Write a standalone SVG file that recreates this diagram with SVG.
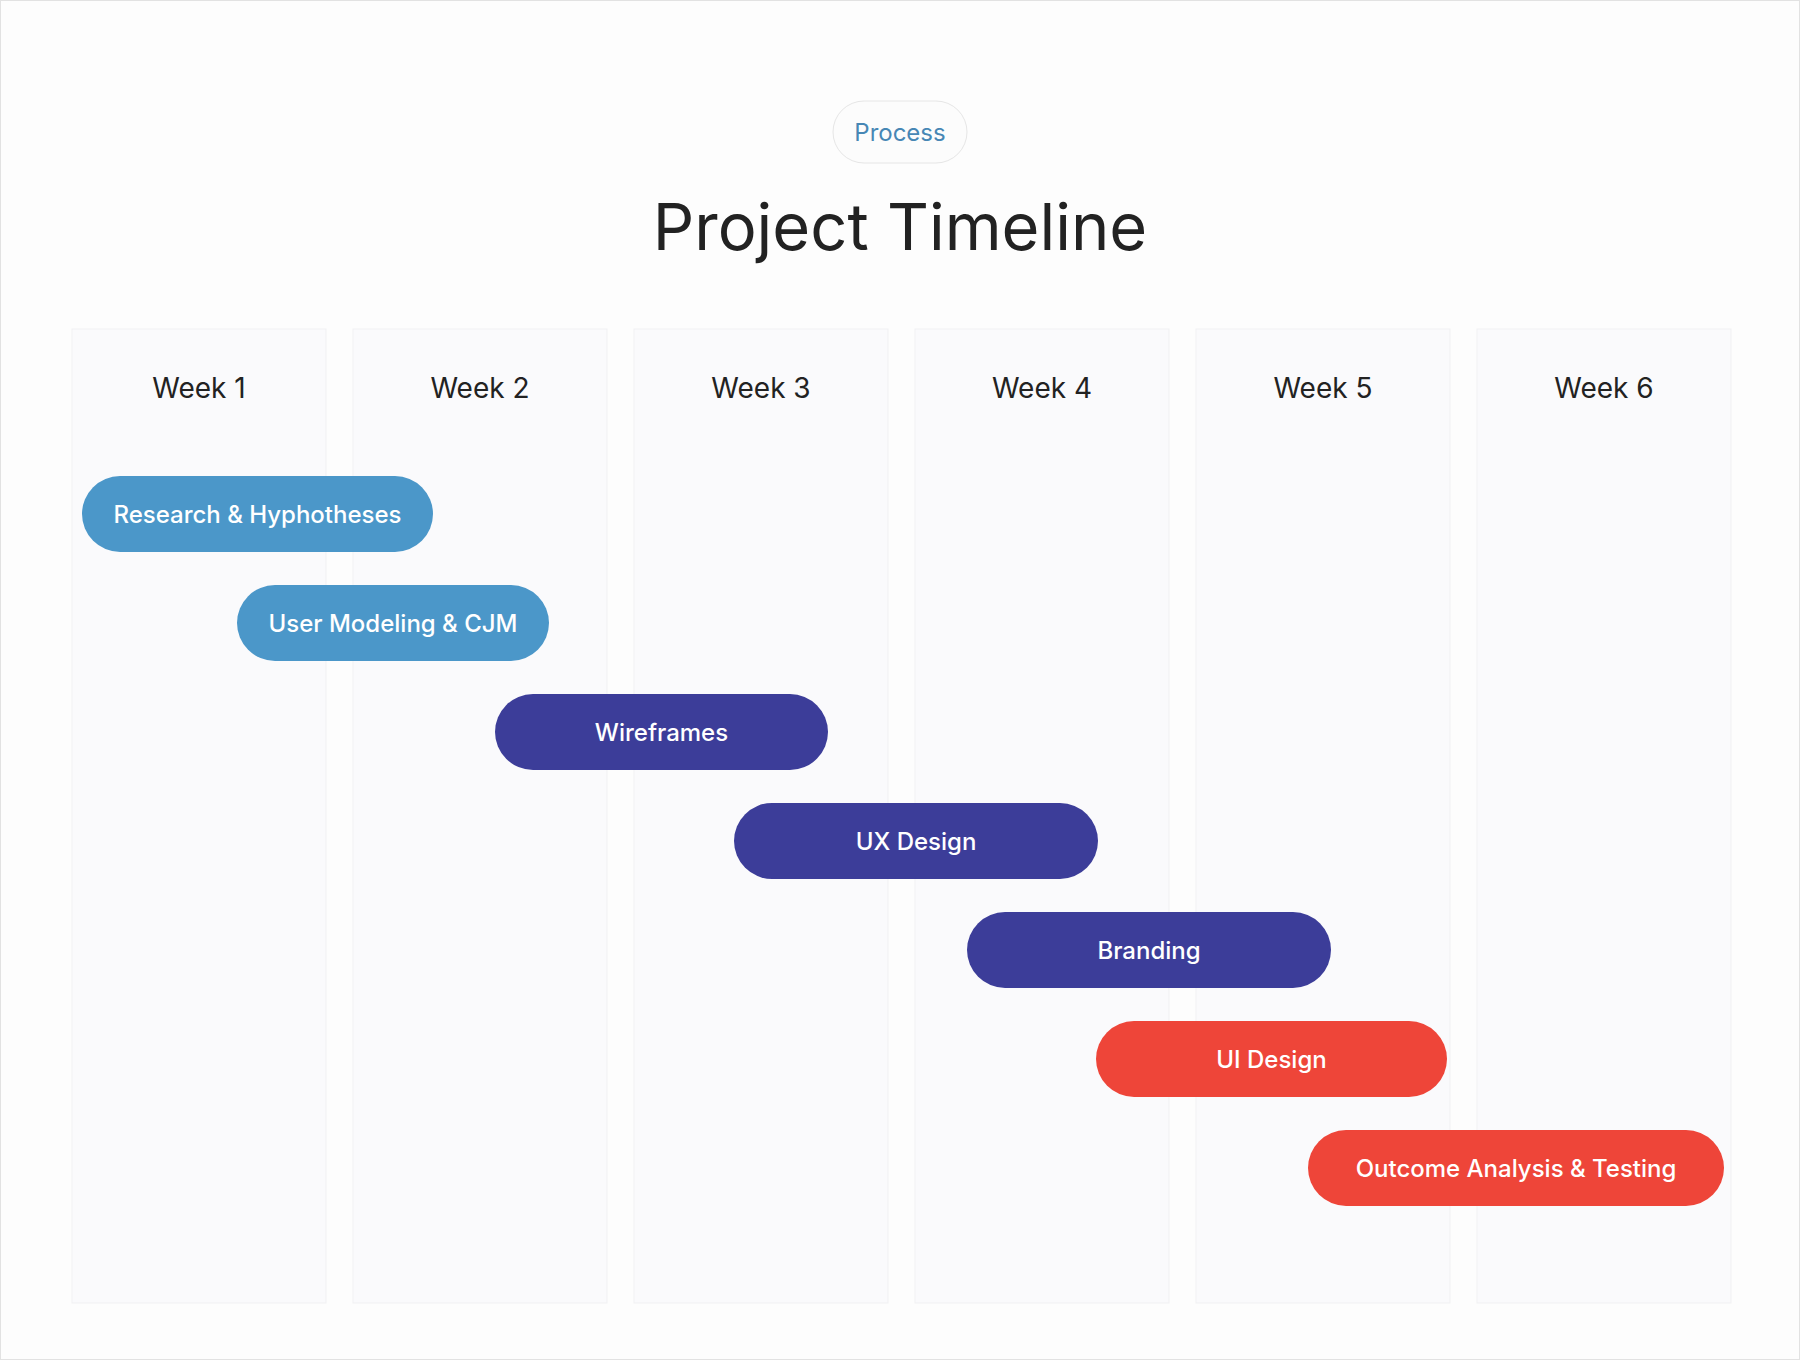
<svg xmlns="http://www.w3.org/2000/svg" width="1800" height="1360" viewBox="0 0 1800 1360">
<style>
.col{fill:#fafafc;stroke:#f1f1f3;stroke-width:1}
.wk{font-family:Inter,"Noto Sans",sans-serif;font-size:28px;fill:#222;text-anchor:middle}
.bar-t{font-family:Inter,"Noto Sans",sans-serif;font-size:24px;font-weight:500;fill:#fff;text-anchor:middle}
.lb{fill:#4b97c9}.db{fill:#3c3d99}.rd{fill:#ee4539}
</style>
<rect x="0.5" y="0.5" width="1799" height="1359" fill="#fdfdfd" stroke="#e2e2e2"/>
<g id="header">
<rect x="833" y="101" width="134" height="62" rx="31" fill="#fcfcfc" stroke="#e6e6e6"/>
<text x="900" y="141" font-family="Inter,'Noto Sans',sans-serif" font-size="24" fill="#4787b5" text-anchor="middle">Process</text>
<text x="900" y="250" font-family="Inter,'Noto Sans',sans-serif" font-size="65" fill="#222" text-anchor="middle">Project Timeline</text>
</g>
<g id="columns">
<g id="week1"><rect class="col" x="72" y="329" width="254" height="974"/><text class="wk" x="199" y="398">Week 1</text></g>
<g id="week2"><rect class="col" x="353" y="329" width="254" height="974"/><text class="wk" x="480" y="398">Week 2</text></g>
<g id="week3"><rect class="col" x="634" y="329" width="254" height="974"/><text class="wk" x="761" y="398">Week 3</text></g>
<g id="week4"><rect class="col" x="915" y="329" width="254" height="974"/><text class="wk" x="1042" y="398">Week 4</text></g>
<g id="week5"><rect class="col" x="1196" y="329" width="254" height="974"/><text class="wk" x="1323" y="398">Week 5</text></g>
<g id="week6"><rect class="col" x="1477" y="329" width="254" height="974"/><text class="wk" x="1604" y="398">Week 6</text></g>
</g>
<g id="connectors"/>
<g id="bar1"><rect class="lb" x="82" y="476" width="351" height="76" rx="38"/><text class="bar-t" x="257.5" y="523">Research &amp; Hyphotheses</text></g>
<g id="bar2"><rect class="lb" x="237" y="585" width="312" height="76" rx="38"/><text class="bar-t" x="393" y="632">User Modeling &amp; CJM</text></g>
<g id="bar3"><rect class="db" x="495" y="694" width="333" height="76" rx="38"/><text class="bar-t" x="661.5" y="741">Wireframes</text></g>
<g id="bar4"><rect class="db" x="734" y="803" width="364" height="76" rx="38"/><text class="bar-t" x="916" y="850">UX Design</text></g>
<g id="bar5"><rect class="db" x="967" y="912" width="364" height="76" rx="38"/><text class="bar-t" x="1149" y="959">Branding</text></g>
<g id="bar6"><rect class="rd" x="1096" y="1021" width="351" height="76" rx="38"/><text class="bar-t" x="1271.5" y="1068">UI Design</text></g>
<g id="bar7"><rect class="rd" x="1308" y="1130" width="416" height="76" rx="38"/><text class="bar-t" x="1516" y="1177">Outcome Analysis &amp; Testing</text></g>
</svg>
